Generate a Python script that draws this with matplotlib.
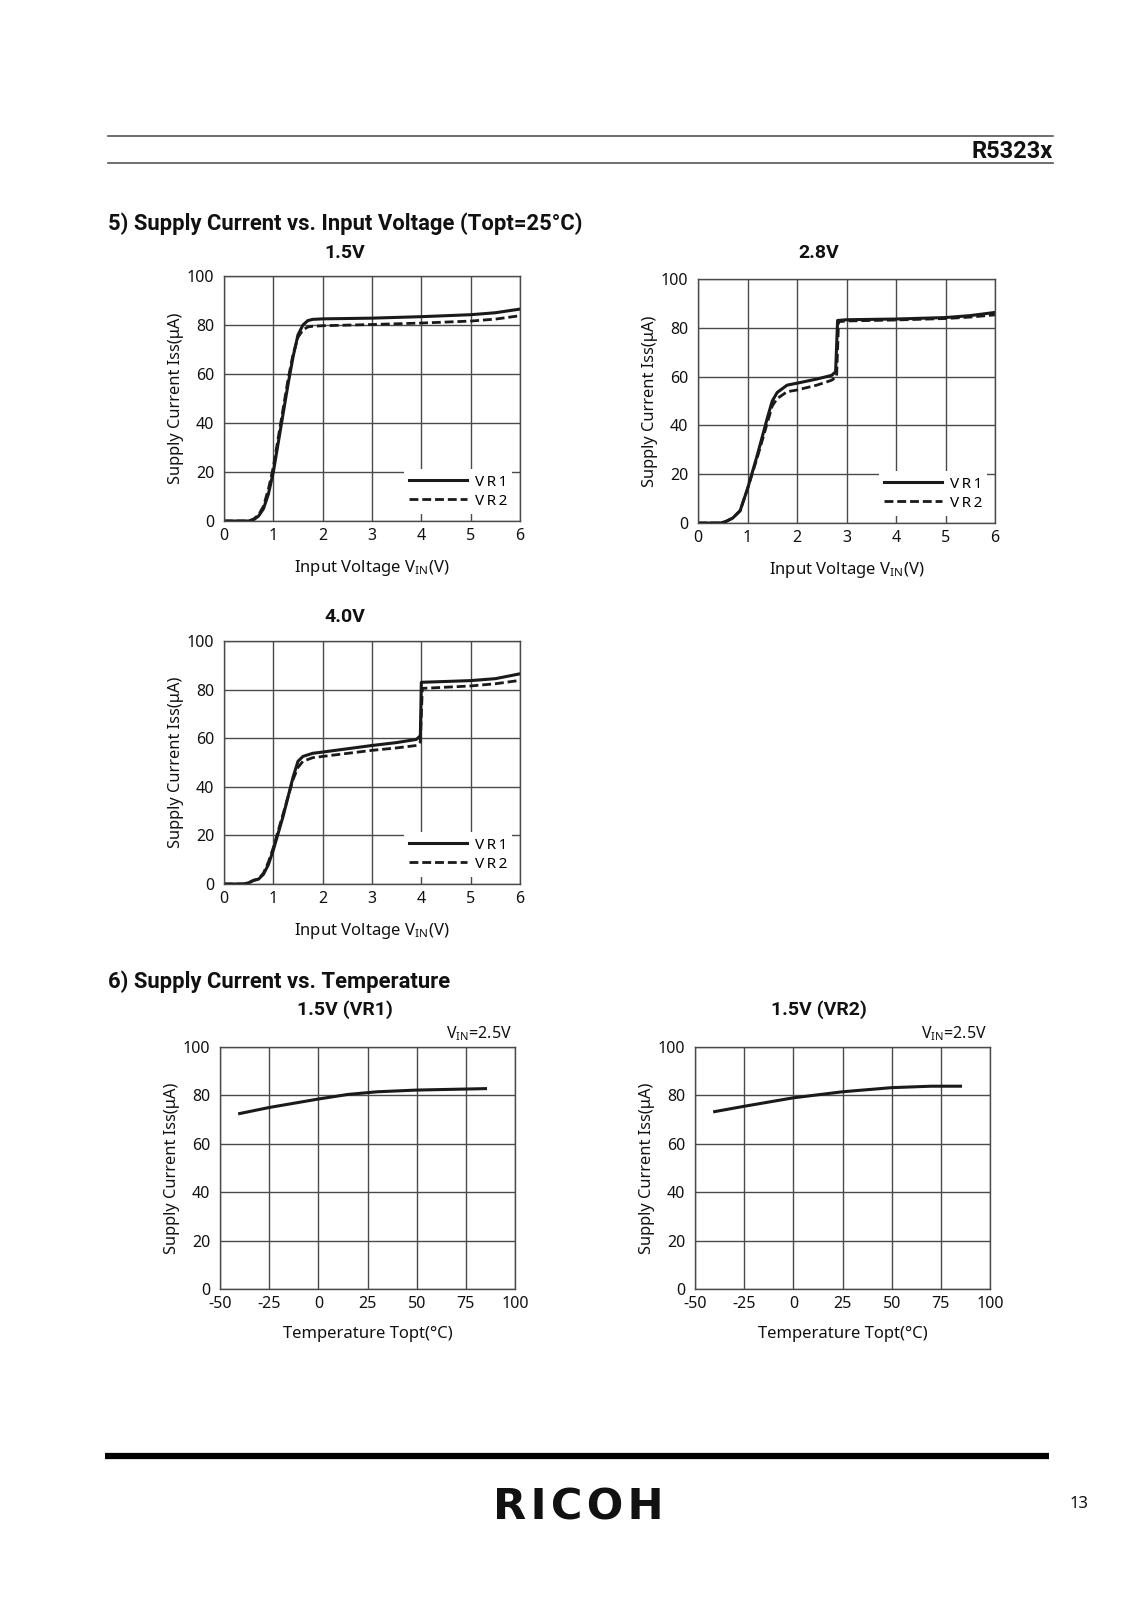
import matplotlib
matplotlib.use('Agg')
import matplotlib.pyplot as plt
from matplotlib.lines import Line2D

# ---------------- data ----------------
# 5) Supply current vs input voltage, 1.5V
v15 = [0, 0.5, 0.6, 0.7, 0.8, 0.9, 1.0, 1.1, 1.2, 1.3, 1.4, 1.5, 1.6, 1.7, 1.8, 2.0, 3.0, 4.0, 5.0, 5.5, 6.0]
i15_vr1 = [0, 0, 0.5, 2, 5, 11, 20, 32, 44, 56, 67, 76, 80, 81.8, 82.3, 82.5, 82.8, 83.4, 84.2, 85.0, 86.5]
i15_vr2 = [0, 0, 0.8, 2.5, 6, 13, 22, 34, 46, 58, 68, 75, 78, 79.2, 79.5, 79.7, 80.2, 80.8, 81.6, 82.4, 83.8]

# 2.8V
v28_vr1 = [0, 0.45, 0.55, 0.7, 0.85, 1.0, 1.2, 1.4, 1.5, 1.6, 1.8, 2.0, 2.4, 2.7, 2.78, 2.82, 3.0, 4.0, 5.0, 5.5, 6.0]
i28_vr1 = [0, 0, 0.5, 2, 5, 14, 28, 43, 50, 53.5, 56.5, 57.3, 59, 60.5, 62, 83, 83.3, 83.6, 84.2, 85.0, 86.3]
v28_vr2 = [0, 0.45, 0.55, 0.7, 0.85, 1.0, 1.2, 1.4, 1.5, 1.6, 1.8, 2.0, 2.4, 2.7, 2.8, 2.84, 3.0, 4.0, 5.0, 5.5, 6.0]
i28_vr2 = [0, 0, 0.5, 2, 5, 14, 27, 41, 48, 51, 53.8, 54.5, 56.5, 58.5, 60, 82.5, 82.8, 83.2, 83.8, 84.4, 85.3]

# 4.0V
v40_vr1 = [0, 0.4, 0.5, 0.6, 0.7, 0.8, 0.9, 1.0, 1.2, 1.4, 1.5, 1.6, 1.8, 2.0, 3.0, 3.5, 3.9, 3.98, 4.0, 5.0, 5.5, 6.0]
i40_vr1 = [0, 0, 0.5, 1.5, 2, 4, 8, 14, 28, 44, 50.5, 52.5, 53.8, 54.3, 57, 58.2, 59.5, 61, 83, 83.7, 84.5, 86.5]
v40_vr2 = [0, 0.4, 0.5, 0.6, 0.7, 0.8, 0.9, 1.0, 1.2, 1.4, 1.5, 1.6, 1.8, 2.0, 3.0, 3.5, 3.9, 3.98, 4.02, 5.0, 5.5, 6.0]
i40_vr2 = [0, 0, 0.5, 1.5, 2, 4.5, 9, 15, 29, 43, 48, 50.5, 52, 52.5, 55, 56, 57, 58.5, 80.5, 81.5, 82.4, 83.8]

# 6) Supply current vs temperature
t_vr1 = [-40, -25, 0, 15, 30, 50, 85]
i_t_vr1 = [72.5, 75.0, 78.5, 80.4, 81.5, 82.2, 82.8]
t_vr2 = [-40, -25, 0, 25, 50, 70, 85]
i_t_vr2 = [73.3, 75.5, 79.0, 81.5, 83.2, 83.8, 83.8]

v_ticks = [0, 1, 2, 3, 4, 5, 6]
t_ticks = [-50, -25, 0, 25, 50, 75, 100]
i_ticks = [0, 20, 40, 60, 80, 100]
series_names = ['V\u2009R\u20091', 'V\u2009R\u20092']

# ---------------- layout ----------------
W, H = 1132, 1600
REG = ['Noto Sans', 'DejaVu Sans']
BOLD = ['Roboto', 'DejaVu Sans']
plt.rcParams['font.family'] = REG
plt.rcParams['mathtext.fontset'] = 'custom'
plt.rcParams['mathtext.rm'] = 'Noto Sans'

fig = plt.figure(figsize=(W / 100, H / 100), dpi=100)
fig.patch.set_facecolor('white')

GRID = '#4a4a4a'
LINE = '#1a1a1a'
TXT = '#111111'


def rect(l, r, t, b):
    return [l / W, 1 - b / H, (r - l) / W, (b - t) / H]


def fx(x):
    return x / W


def fy(y):
    return 1 - y / H


def setup(ax, xlim, xticks, xlabel):
    ax.set_xlim(*xlim)
    ax.set_ylim(0, 100)
    ax.set_xticks(xticks)
    ax.set_xticklabels([str(t) for t in xticks])
    ax.set_yticks(i_ticks)
    ax.grid(True, color=GRID, lw=1.0)
    ax.set_axisbelow(True)
    for s in ax.spines.values():
        s.set_color(GRID)
        s.set_linewidth(1.0)
    ax.tick_params(length=0, labelsize=11.5, colors=TXT)
    ax.tick_params(axis='y', pad=7)
    ax.tick_params(axis='x', pad=5)
    ax.set_ylabel('Supply Current Iss(μA)', fontsize=11.8, labelpad=2, color=TXT)
    ax.set_xlabel(xlabel, fontsize=12, labelpad=10, color=TXT)


VLABEL = r'Input Voltage V$\mathregular{_{IN}}$(V)'
TLABEL = 'Temperature Topt(°C)'


def vchart(r, curves, title, tx, ty):
    ax = fig.add_axes(rect(*r))
    setup(ax, (0, 6), v_ticks, VLABEL)
    (x1, y1), (x2, y2) = curves
    ax.plot(x1, y1, color=LINE, lw=2.2, label=series_names[0], solid_joinstyle='round')
    ax.plot(x2, y2, color=LINE, lw=2.0, ls=(0, (3.2, 1.4)), label=series_names[1])
    leg = ax.legend(loc='lower right', frameon=True, fancybox=False, handlelength=3.8,
                    handletextpad=0.5, labelspacing=0.26, borderpad=0.35, borderaxespad=0.3,
                    bbox_to_anchor=(0.99, 0.01), fontsize=11)
    leg.get_frame().set_facecolor('white')
    leg.get_frame().set_edgecolor('none')
    leg.get_frame().set_alpha(1.0)
    fig.text(fx(tx), fy(ty), title, family=BOLD, weight='bold', fontsize=14,
             ha='center', va='center', color=TXT)
    return ax


vchart((224, 520, 276, 521), [(v15, i15_vr1), (v15, i15_vr2)], '1.5V', 345, 253)
vchart((698, 995, 279, 523), [(v28_vr1, i28_vr1), (v28_vr2, i28_vr2)], '2.8V', 819, 253)
vchart((224, 520, 641, 884), [(v40_vr1, i40_vr1), (v40_vr2, i40_vr2)], '4.0V', 345, 617)


def tchart(r, x, y, title, tx, ty):
    ax = fig.add_axes(rect(*r))
    setup(ax, (-50, 100), t_ticks, TLABEL)
    ax.plot(x, y, color=LINE, lw=2.2)
    fig.text(fx(tx), fy(ty), title, family=BOLD, weight='bold', fontsize=14,
             ha='center', va='center', color=TXT)
    fig.text(fx(r[1] - 3), fy(r[2] - 13), r'V$\mathregular{_{IN}}$=2.5V', fontsize=11.5,
             ha='right', va='center', color=TXT)
    return ax


tchart((220, 515, 1047, 1289), t_vr1, i_t_vr1, '1.5V (VR1)', 345, 1010)
tchart((695, 990, 1047, 1289), t_vr2, i_t_vr2, '1.5V (VR2)', 819, 1010)

# ---------------- page decorations ----------------
for yy in (136, 163):
    fig.add_artist(Line2D([fx(108), fx(1053)], [fy(yy), fy(yy)], color='#555555', lw=1.2))
fig.text(fx(1053), fy(151), 'R5323x', family=BOLD, weight='bold', fontsize=17,
         ha='right', va='center', color=TXT)
fig.text(fx(108), fy(224), '5) Supply Current vs. Input Voltage (Topt=25°C)', family=BOLD,
         weight='bold', fontsize=15.8, ha='left', va='center', color=TXT)
fig.text(fx(108), fy(982), '6) Supply Current vs. Temperature', family=BOLD,
         weight='bold', fontsize=15.8, ha='left', va='center', color=TXT)

fig.add_artist(Line2D([fx(105), fx(1049)], [fy(1456), fy(1456)], color='black', lw=4.5,
                      solid_capstyle='butt'))
fig.text(fx(578), fy(1507), 'R\u200aI\u200aC\u200aO\u200aH', family=['DejaVu Sans'], weight='bold',
         fontsize=31, ha='center', va='center', color=TXT)
fig.text(fx(1079), fy(1504), '13', fontsize=12, ha='center', va='center', color=TXT)

fig.savefig('out.png', dpi=100, facecolor='white')
